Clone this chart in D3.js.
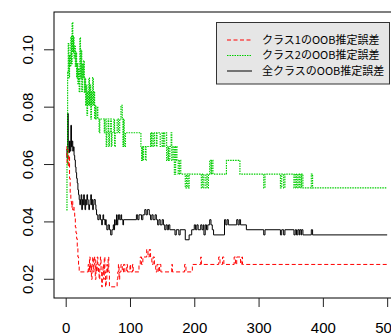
<!DOCTYPE html>
<html><head><meta charset="utf-8">
<script src="https://cdn.jsdelivr.net/npm/d3@7"></script>
<style>body{margin:0;background:#fff}svg{display:block}</style>
</head><body>
<svg id="c" width="391" height="335"></svg>
<script>
// ---- data (tree number, OOB error) : value holds until next breakpoint ----
const xTicks = [0, 100, 200, 300, 400, 500];
const yTicks = [0.02, 0.04, 0.06, 0.08, 0.10];
const yTickLabels = ["0.02", "0.04", "0.06", "0.08", "0.10"];
const seriesNames = ["クラス1のOOB推定誤差", "クラス2のOOB推定誤差", "全クラスのOOB推定誤差"];
const seriesColors = ["#FF0000", "#00CD00", "#000000"];

const errAll = [[1,0.065],[2,0.062],[3,0.0776],[4,0.066],[5,0.064],[6,0.068],[7,0.0645],[8,0.0735],[9,0.066],[10,0.068],[11,0.0645],[12,0.066],[13,0.063],[14,0.0614],[15,0.059],[16,0.057],[17,0.055],[18,0.0534],[19,0.051],[20,0.0493],[21,0.0476],[22,0.0458],[23,0.0476],[24,0.0493],[25,0.0441],[26,0.0476],[27,0.0458],[28,0.0493],[29,0.0458],[30,0.0441],[31,0.0476],[32,0.0458],[33,0.0493],[34,0.0476],[35,0.0458],[36,0.0441],[37,0.0458],[38,0.0476],[39,0.0493],[40,0.0458],[41,0.0476],[42,0.0441],[43,0.0458],[44,0.0476],[46,0.0458],[47,0.0441],[48,0.0423],[50,0.0406],[52,0.0423],[54,0.0406],[56,0.0388],[57,0.0406],[58,0.0423],[59,0.0406],[61,0.0388],[62,0.0406],[63,0.0388],[64,0.0371],[66,0.0388],[68,0.0371],[70,0.0353],[72,0.0371],[74,0.0388],[75,0.0371],[76,0.0406],[77,0.0388],[79,0.0423],[80,0.0388],[81,0.0406],[82,0.0423],[84,0.0406],[86,0.0423],[87,0.0406],[89,0.0388],[90,0.0406],[110,0.0423],[112,0.0406],[114,0.0423],[118,0.0406],[120,0.0423],[123,0.0441],[125,0.0423],[127,0.0441],[130,0.0423],[132,0.0406],[134,0.0423],[136,0.0406],[139,0.0423],[141,0.0406],[143,0.0388],[145,0.0406],[147,0.0388],[150,0.0406],[152,0.0388],[154,0.0371],[156,0.0388],[158,0.0371],[160,0.0388],[162,0.0371],[170,0.0353],[172,0.0371],[176,0.0353],[178,0.0371],[186,0.0336],[192,0.0353],[196,0.0371],[200,0.0388],[202,0.0371],[204,0.0388],[206,0.0371],[210,0.0388],[212,0.0371],[214,0.0388],[215,0.0353],[217,0.0388],[219,0.0371],[221,0.0388],[224,0.0406],[226,0.0388],[228,0.0371],[230,0.0353],[247,0.0406],[249,0.0388],[251,0.0406],[253,0.0388],[266,0.0406],[268,0.0388],[270,0.0406],[272,0.0388],[281,0.0371],[308,0.0353],[310,0.0371],[334,0.0353],[336,0.0371],[339,0.0353],[341,0.0371],[355,0.0353],[357,0.0371],[359,0.0353],[361,0.0371],[363,0.0353],[364,0.0371],[366,0.0353],[367,0.0371],[369,0.0353],[382,0.0371],[384,0.0353],[500,0.0353]];

const errClass1 = [[1,0.066],[2,0.060],[3,0.065],[4,0.059],[5,0.063],[6,0.055],[7,0.050],[8,0.047],[9,0.045],[10,0.047],[11,0.044],[12,0.045],[13,0.043],[14,0.041],[15,0.038],[16,0.036],[17,0.034],[18,0.031],[19,0.0276],[20,0.025],[21,0.0224],[35,0.025],[36,0.0224],[37,0.0276],[38,0.0224],[39,0.025],[40,0.0198],[41,0.025],[42,0.0276],[43,0.0224],[44,0.025],[45,0.0276],[46,0.0198],[47,0.025],[48,0.0224],[49,0.0276],[50,0.025],[51,0.0224],[52,0.0198],[53,0.025],[54,0.0276],[55,0.0224],[56,0.0172],[57,0.0224],[58,0.025],[59,0.0198],[60,0.0276],[61,0.0224],[62,0.0172],[63,0.0198],[64,0.025],[65,0.0224],[66,0.0276],[67,0.0224],[68,0.0172],[80,0.0198],[81,0.0224],[82,0.025],[83,0.0198],[84,0.0224],[86,0.025],[88,0.0224],[90,0.025],[92,0.0224],[95,0.025],[96,0.0224],[100,0.025],[101,0.0224],[104,0.025],[105,0.0224],[114,0.025],[116,0.0276],[118,0.025],[120,0.0276],[126,0.0302],[128,0.0276],[130,0.0302],[132,0.0276],[134,0.025],[136,0.0276],[138,0.025],[140,0.0224],[142,0.025],[144,0.0224],[146,0.025],[148,0.0224],[165,0.025],[166,0.0224],[185,0.025],[187,0.0224],[197,0.025],[210,0.0276],[211,0.025],[238,0.0276],[240,0.025],[244,0.0276],[246,0.025],[262,0.0276],[264,0.025],[266,0.0276],[272,0.025],[274,0.0276],[275,0.025],[500,0.025]];

const errClass2 = [[1,0.044],[2,0.060],[3,0.092],[4,0.102],[5,0.090],[6,0.098],[7,0.094],[8,0.1045],[9,0.095],[10,0.1093],[11,0.099],[12,0.1045],[13,0.097],[14,0.101],[15,0.094],[16,0.099],[17,0.090],[18,0.095],[19,0.088],[20,0.093],[21,0.085],[22,0.104],[23,0.090],[24,0.0997],[25,0.0853],[26,0.0949],[27,0.090],[28,0.096],[29,0.085],[30,0.090],[31,0.0805],[32,0.0875],[33,0.077],[34,0.0853],[35,0.0805],[36,0.090],[37,0.0805],[38,0.0875],[39,0.0757],[40,0.0853],[41,0.0805],[42,0.0901],[43,0.0805],[44,0.0853],[45,0.0757],[46,0.0805],[47,0.0757],[49,0.080],[50,0.0757],[52,0.0709],[53,0.0757],[60,0.0709],[61,0.0757],[63,0.0661],[64,0.0709],[66,0.0757],[67,0.0661],[68,0.0709],[70,0.0757],[71,0.0661],[72,0.0709],[75,0.0757],[76,0.0661],[77,0.0709],[80,0.0757],[82,0.0709],[84,0.0757],[86,0.0805],[88,0.0757],[89,0.0661],[90,0.0757],[91,0.0661],[93,0.0709],[117,0.0661],[118,0.0613],[119,0.0661],[120,0.0613],[121,0.0661],[124,0.0613],[125,0.0661],[132,0.0709],[133,0.0661],[134,0.0709],[136,0.0661],[138,0.0709],[141,0.0661],[142,0.0709],[147,0.0661],[150,0.0709],[152,0.0661],[154,0.0709],[157,0.0613],[159,0.0661],[160,0.0613],[162,0.0661],[164,0.0709],[165,0.0613],[167,0.0661],[169,0.0565],[171,0.0661],[173,0.0613],[175,0.0565],[177,0.0613],[179,0.0565],[186,0.0517],[188,0.0565],[190,0.0517],[192,0.0565],[211,0.0517],[213,0.0565],[215,0.0517],[218,0.0565],[220,0.0517],[222,0.0565],[224,0.0613],[226,0.0565],[227,0.0613],[229,0.0565],[250,0.0613],[271,0.0565],[308,0.0517],[310,0.0565],[334,0.0517],[336,0.0565],[339,0.0517],[341,0.0565],[355,0.0517],[357,0.0565],[359,0.0517],[361,0.0565],[363,0.0517],[364,0.0565],[366,0.0517],[367,0.0565],[369,0.0517],[382,0.0565],[384,0.0517],[500,0.0517]];

// ---- drawing ----
const svg = d3.select("#c");
const x = d3.scaleLinear().domain([-18.96, 519.96]).range([53.5, 400]);
const y = d3.scaleLinear().domain([0.0132, 0.1130]).range([298.3, 12]);
const font = "'Liberation Sans', Arial, sans-serif";

const line = d3.line().x(d => x(d[0])).y(d => y(d[1])).curve(d3.curveStepAfter);

const dashRed = "4,2.5", dashGreen = "1.5,1";
const series = [
  {data: errAll, color: seriesColors[2], dash: null, w: 1},
  {data: errClass1, color: seriesColors[0], dash: dashRed, w: 1},
  {data: errClass2, color: seriesColors[1], dash: dashGreen, w: 1.15}
];
series.forEach(s => {
  svg.append("path").attr("d", line(s.data)).attr("fill", "none")
    .attr("stroke", s.color).attr("stroke-width", s.w)
    .attr("stroke-dasharray", s.dash);
});

// plot box
svg.append("rect").attr("x", 54).attr("y", 12).attr("width", 360).attr("height", 286)
  .attr("fill", "none").attr("stroke", "#000").attr("stroke-width", 1);

// y axis
const gy = svg.append("g").attr("transform", "translate(54,0)")
  .call(d3.axisLeft(y).tickValues(yTicks).tickSize(10).tickFormat((d, i) => yTickLabels[i]));
gy.select(".domain").remove();
gy.selectAll(".tick line").attr("stroke", "#222");
gy.selectAll(".tick text").attr("x", 0).attr("dy", 0)
  .attr("transform", "translate(-21,0) rotate(-90)")
  .attr("text-anchor", "middle").attr("font-family", font).attr("font-size", 15).attr("fill", "#000");

// x axis
const gx = svg.append("g").attr("transform", "translate(0,298)")
  .call(d3.axisBottom(x).tickValues(xTicks).tickSize(9).tickFormat(d3.format("d")));
gx.select(".domain").remove();
gx.selectAll(".tick line").attr("stroke", "#222");
gx.selectAll(".tick text").attr("y", 35).attr("dy", 0)
  .attr("font-family", font).attr("font-size", 15).attr("fill", "#000");

// legend
const lg = svg.append("g");
lg.append("rect").attr("x", 216.5).attr("y", 22.5).attr("width", 173).attr("height", 61.5)
  .attr("fill", "#E6E6E6").attr("stroke", "#333").attr("stroke-width", 1);
const legendRows = [
  {name: seriesNames[0], color: seriesColors[0], dash: dashRed, yy: 40},
  {name: seriesNames[1], color: seriesColors[1], dash: dashGreen, yy: 55.5},
  {name: seriesNames[2], color: seriesColors[2], dash: null, yy: 71}
];
legendRows.forEach(r => {
  lg.append("line").attr("x1", 227).attr("x2", 252).attr("y1", r.yy).attr("y2", r.yy)
    .attr("stroke", r.color).attr("stroke-width", 1).attr("stroke-dasharray", r.dash);
  lg.append("text").attr("x", 262).attr("y", r.yy).attr("dy", "0.35em")
    .attr("font-family", "'Noto Sans CJK JP', sans-serif").attr("font-size", 11)
    .attr("fill", "#000").text(r.name);
});
</script>
</body></html>
